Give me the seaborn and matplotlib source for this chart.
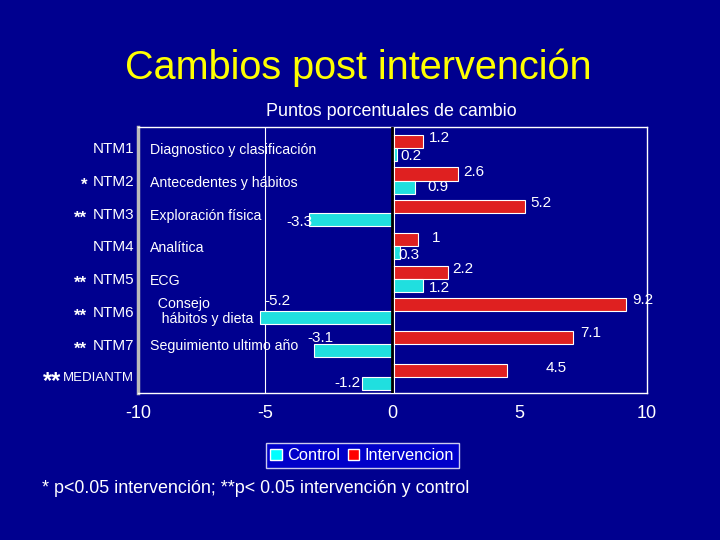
import matplotlib
matplotlib.use("Agg")
import matplotlib.pyplot as plt
import seaborn as sns
import pandas as pd
from matplotlib.patches import Patch

categories = ["NTM1", "NTM2", "NTM3", "NTM4", "NTM5", "NTM6", "NTM7", "MEDIANTM"]
stars = ["", "*", "**", "", "**", "**", "**", "**"]
descriptions = ["Diagnostico y clasificación", "Antecedentes y hábitos", "Exploración física",
                "Analítica", "ECG", "  Consejo\n   hábitos y dieta", "Seguimiento ultimo año", ""]
intervencion = [1.2, 2.6, 5.2, 1.0, 2.2, 9.2, 7.1, 4.5]
control = [0.2, 0.9, -3.3, 0.3, 1.2, -5.2, -3.1, -1.2]
int_labels = ["1.2", "2.6", "5.2", "1", "2.2", "9.2", "7.1", "4.5"]
ctl_labels = ["0.2", "0.9", "-3.3", "0.3", "1.2", "-5.2", "-3.1", "-1.2"]
xticks = [-10, -5, 0, 5, 10]

# label placement tweaks (layout only)
int_dx = [0.22, 0.2, 0.23, 0.57, 0.16, 0.25, 0.3, 1.52]
int_dy = [-0.1, -0.05, -0.1, -0.03, -0.1, -0.14, -0.14, -0.07]
ctl_dx = [0.11, 0.48, 0.15, -0.06, 0.22, 1.2, 0.8, -0.06]
ctl_dy = [0.05, 0.0, 0.08, 0.07, 0.08, -0.53, -0.38, 0.0]

BG = "#00008F"
RED = "#FF0000"
CYAN = "#00FFFF"

df = pd.DataFrame({
    "cat": categories * 2,
    "val": intervencion + control,
    "grp": ["Intervencion"] * len(categories) + ["Control"] * len(categories),
})

sns.set_theme(style="white")
plt.rcParams["font.family"] = ["Liberation Sans", "DejaVu Sans"]

fig = plt.figure(figsize=(7.2, 5.4), dpi=100, facecolor=BG)
ax = fig.add_axes([0.192, 0.272, 0.706, 0.493])
ax.set_facecolor(BG)

sns.barplot(data=df, y="cat", x="val", hue="grp", hue_order=["Intervencion", "Control"],
            palette={"Intervencion": RED, "Control": CYAN}, orient="h", order=categories,
            width=0.8, edgecolor="white", linewidth=0.8, legend=False, ax=ax)

n = len(categories)
ax.set_xlim(-10, 10)
ax.set_ylim(n - 0.5, -0.64)
ax.set_xticks(xticks)
ax.set_xticklabels([str(t) for t in xticks], color="white", fontsize=13)
ax.set_xlabel("")
ax.set_ylabel("")
ax.set_yticks(range(n))
ax.set_yticklabels(categories, color="white", fontsize=11)
for lbl in ax.get_yticklabels():
    if lbl.get_text() == "MEDIANTM":
        lbl.set_fontsize(9.5)
ax.set_yticks([i - 0.5 for i in range(n + 1)], minor=True)
ax.tick_params(axis="y", which="major", length=0, pad=3)
ax.tick_params(axis="y", which="minor", length=6, color="white", direction="inout", width=1.2)
ax.tick_params(axis="x", length=5, color="white", pad=6, direction="inout")
for s in ax.spines.values():
    s.set_color("white")
    s.set_linewidth(1.0)
ax.spines["left"].set_color("#BBBBBB")
ax.spines["left"].set_linewidth(2.5)
ax.axvline(-5, color="white", lw=0.8, zorder=0)
ax.axvline(0, color="black", lw=2.0, zorder=3)
ax.axvline(0.08, color="white", lw=0.8, zorder=3)

for i in range(n):
    ax.text(intervencion[i] + int_dx[i], i - 0.2 + int_dy[i], int_labels[i],
            color="white", fontsize=11, va="center", ha="left")
    xc = control[i]
    ax.text(xc + ctl_dx[i], i + 0.2 + ctl_dy[i], ctl_labels[i],
            color="white", fontsize=11, va="center", ha="left" if xc >= 0 else "right")
    if descriptions[i]:
        dy = 0.07 if i != 5 else 0.0
        ax.text(-9.53, i + dy, descriptions[i], color="white", fontsize=10.2,
                va="center", ha="left", linespacing=1.1)

for i, st in enumerate(stars):
    if st:
        fs = 12 if i != 7 else 17
        xoff = -0.1 if i != 7 else -0.152
        ax.text(xoff, i + 0.15, st, color="white", fontsize=fs, va="center", ha="right",
                transform=ax.get_yaxis_transform(), fontweight="bold")

fig.text(0.497, 0.874, "Cambios post intervención", color="#FFFF00", fontsize=28.5,
         ha="center", va="center")
fig.text(0.543, 0.794, "Puntos porcentuales de cambio", color="white", fontsize=12.9,
         ha="center", va="center")

handles = [Patch(facecolor=CYAN, edgecolor="white"), Patch(facecolor=RED, edgecolor="white")]
leg = fig.legend(handles, ["Control", "Intervencion"], loc="center", bbox_to_anchor=(0.503, 0.156),
                 ncol=2, frameon=True, fontsize=11.8,
                 handlelength=0.7, handleheight=0.7,
                 handletextpad=0.3, columnspacing=0.5, borderpad=0.3, fancybox=False)
leg.get_frame().set_facecolor("#0000D8")
leg.get_frame().set_edgecolor("white")
for t in leg.get_texts():
    t.set_color("white")

fig.text(0.058, 0.096, "* p<0.05 intervención; **p< 0.05 intervención y control", color="white",
         fontsize=12.9, ha="left", va="center")

fig.savefig("out.png", dpi=100, facecolor=BG)
